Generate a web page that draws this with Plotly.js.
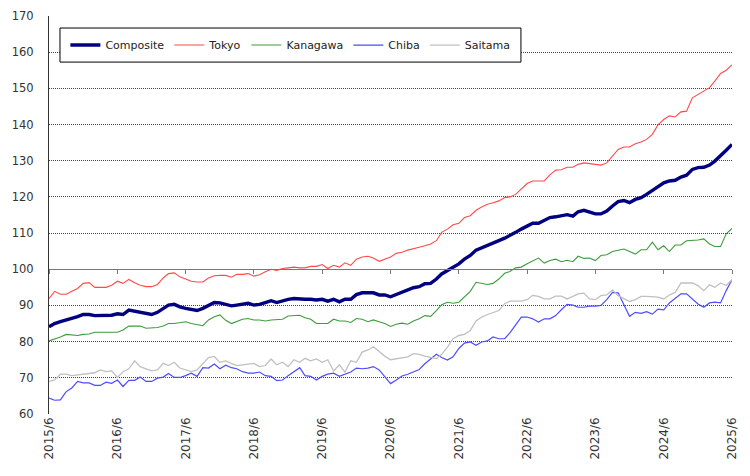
<!DOCTYPE html>
<html>
<head>
<meta charset="utf-8">
<script src="https://cdn.plot.ly/plotly-3.0.1.min.js"></script>
<style>
html,body{margin:0;padding:0;background:#fff;}
#chart{width:750px;height:476px;}
</style>
</head>
<body>
<div id="chart"></div>
<script>
// Monthly index values, 2015/6 .. 2025/6 (121 months)
var startYear = 2015, startMonth = 6, nMonths = 121;

var composite = [
84.1,85.0,85.5,85.9,86.4,86.9,87.5,87.5,87.2,87.2,87.2,87.3,87.7,87.5,88.7,88.4,88.1,87.6,87.5,88.1,89.2,90.1,90.3,89.6,89.2,88.9,88.6,89.2,90.1,90.8,90.7,90.3,
89.9,90.1,90.4,90.6,90.1,90.3,90.8,91.3,90.8,91.3,91.7,91.9,91.7,91.7,91.7,91.5,91.7,91.2,91.7,91.0,91.7,91.7,93.0,93.5,93.5,93.5,92.9,92.9,92.4,
93.0,93.7,94.3,94.9,95.2,96.0,96.1,97.3,98.7,99.6,100.6,101.5,102.8,103.8,105.3,105.9,106.5,107.2,107.9,108.6,109.3,110.2,111.1,112.0,112.7,112.7,113.4,114.3,114.5,114.7,115.1,
114.7,115.9,116.3,115.9,115.3,115.3,116.1,117.5,118.7,119.0,118.4,119.3,119.8,120.7,121.8,123.0,123.9,124.4,124.6,125.5,126.0,127.6,128.1,128.2,128.8,129.9,131.3,132.9,134.5
];
var tokyo = [
91.9,93.9,93.1,93.1,93.9,94.7,96.1,96.3,95.0,95.0,95.0,95.6,96.7,96.1,97.2,96.3,95.6,95.2,95.2,95.8,97.6,98.8,99.0,97.9,97.2,96.7,96.5,96.5,97.6,98.2,98.3,98.3,
97.8,98.6,98.6,98.8,98.1,98.5,99.3,100.0,99.7,100.2,100.4,100.6,100.4,100.4,100.8,100.8,101.3,100.2,101.1,100.6,101.8,101.1,102.8,103.4,103.6,103.1,102.2,102.8,103.4,
104.4,104.7,105.3,105.8,106.1,106.5,107.0,107.9,110.2,111.1,112.3,112.7,114.3,114.8,116.3,117.2,118.0,118.4,118.9,119.8,120.0,120.7,122.1,123.7,124.4,124.4,124.4,126.1,127.4,127.5,128.2,
128.2,129.0,129.4,129.2,128.8,128.8,129.4,131.3,133.1,133.8,133.8,134.7,135.2,135.9,137.3,139.9,141.4,142.4,142.1,143.5,143.7,147.4,148.3,149.1,150.2,152.0,154.1,155.0,156.5
];
var kanagawa = [
80.2,80.7,81.3,82.0,81.8,81.7,82.0,82.1,82.6,82.6,82.6,82.6,82.6,83.2,84.3,84.3,84.3,83.7,83.7,83.9,84.3,85.0,85.0,85.2,85.5,85.0,84.6,84.4,86.0,86.9,87.4,85.9,
85.0,85.5,86.2,86.4,86.0,86.0,85.7,86.0,86.0,86.2,87.1,87.3,87.3,86.6,86.2,85.0,85.0,85.0,86.2,85.7,85.7,85.3,86.4,86.2,85.5,86.0,85.5,85.0,84.2,
84.8,85.1,84.8,85.7,86.3,87.2,87.0,88.6,90.2,90.9,90.6,90.9,92.3,93.9,96.4,96.1,95.8,96.1,97.3,98.9,99.4,100.4,100.6,101.5,102.4,103.1,101.7,102.4,102.8,102.1,102.5,
102.1,103.6,103.0,103.1,102.4,103.8,104.0,104.9,105.2,105.6,104.9,104.2,105.4,105.4,107.5,105.4,106.5,104.9,106.7,106.7,107.9,107.9,108.1,108.4,107.0,106.3,106.3,109.8,111.3
];
var chiba = [
64.4,63.8,63.9,66.2,67.2,69.0,68.6,68.6,67.9,67.9,68.8,68.5,69.4,67.6,69.3,69.3,70.2,69.0,69.0,69.9,70.2,71.2,70.1,70.1,70.6,71.3,70.4,72.8,72.7,73.8,72.5,73.5,
72.8,72.5,71.7,71.3,71.3,71.6,70.6,70.4,69.2,69.4,70.6,71.7,72.8,70.6,70.4,69.4,70.4,71.0,71.3,70.4,71.0,71.6,72.7,72.5,72.7,73.1,72.2,70.4,68.4,
69.4,70.5,71.0,71.7,72.3,73.9,75.3,76.5,75.6,74.9,75.8,78.1,79.6,79.9,79.0,79.9,80.2,81.3,80.8,80.8,82.4,84.5,86.8,86.8,86.3,85.4,86.3,86.3,87.2,88.8,90.3,
90.1,89.5,89.5,89.8,89.8,90.0,91.6,93.6,93.5,90.1,87.0,88.1,87.8,88.3,87.6,89.0,88.8,90.7,92.0,93.2,93.2,91.8,90.4,89.5,90.7,90.9,90.7,94.1,97.1
];
var saitama = [
69.0,69.4,71.0,71.0,70.6,70.8,71.1,71.1,71.4,72.2,71.7,71.9,70.1,71.7,72.5,74.7,73.1,72.5,71.9,72.2,74.0,73.4,74.3,72.7,72.2,71.7,72.2,74.0,75.6,75.9,74.3,74.7,
74.0,73.4,73.6,73.8,74.0,73.1,73.4,75.2,73.6,74.3,73.1,75.0,74.3,75.4,74.7,75.2,74.3,75.0,71.9,73.6,71.6,74.7,74.3,77.1,77.7,78.6,77.2,76.0,75.0,
75.3,75.6,75.8,76.7,76.5,76.0,75.6,75.3,76.5,78.5,80.8,81.7,82.0,83.1,85.7,86.8,87.5,88.0,88.6,90.5,91.2,91.2,91.2,91.6,92.8,92.5,91.8,91.8,92.6,92.6,91.8,
92.5,93.2,93.4,91.8,91.6,92.7,92.9,94.3,92.7,91.8,91.1,91.6,92.5,92.5,92.5,92.3,91.8,92.9,93.6,96.2,96.2,96.2,95.5,94.1,95.7,95.0,96.2,95.5,97.1
];

var tickYears = [2015,2016,2017,2018,2019,2020,2021,2022,2023,2024,2025];
var tickLabels = ["2015/6","2016/6","2017/6","2018/6","2019/6","2020/6","2021/6","2022/6","2023/6","2024/6","2025/6"];
var yTicks = [60,70,80,90,100,110,120,130,140,150,160,170];

function pad(n){return (n<10?'0':'')+n;}
var months = [];
for (var i=0;i<nMonths;i++){
  var m0 = startMonth-1+i;
  months.push((startYear+Math.floor(m0/12))+'-'+pad(m0%12+1)+'-01');
}
var tickVals = tickYears.map(function(y){return y+'-06-01';});

var FONT = 'DejaVu Sans, Verdana, sans-serif';

var traces = [
  {x:months, y:composite, name:'Composite', type:'scatter', mode:'lines', xaxis:'x2', yaxis:'y',
   line:{color:'#000080', width:3.4}},
  {x:months, y:tokyo, name:'Tokyo', type:'scatter', mode:'lines', line:{color:'#ff4a4a', width:1.1}},
  {x:months, y:kanagawa, name:'Kanagawa', type:'scatter', mode:'lines', line:{color:'#3c9c3c', width:1.1}},
  {x:months, y:chiba, name:'Chiba', type:'scatter', mode:'lines', line:{color:'#4d4dff', width:1.2}},
  {x:months, y:saitama, name:'Saitama', type:'scatter', mode:'lines', line:{color:'#c0c0c0', width:1.3}}
];

var xr = [months[0], months[months.length-1]];

var layout = {
  width:750, height:476,
  margin:{l:49, r:18, t:16, b:62, pad:0},
  paper_bgcolor:'#fff', plot_bgcolor:'#fff',
  font:{family:FONT, size:11, color:'#333'},
  showlegend:true,
  legend:{orientation:'h', x:0.024, y:0.927, xanchor:'left', yanchor:'middle',
    bgcolor:'rgba(0,0,0,0)', borderwidth:0,
    font:{family:FONT, size:11, color:'#222'}, traceorder:'normal'},
  shapes:[{type:'rect', xref:'paper', yref:'paper', x0:0.0161, x1:0.691, y0:0.8842, y1:0.9698,
    fillcolor:'#fff', line:{color:'#000', width:1}, layer:'above'}],
  xaxis:{type:'date', range:xr, tickmode:'array', tickvals:tickVals, ticktext:tickLabels,
    tickangle:-90, showgrid:false, zeroline:false, showline:false, ticks:'',
    tickfont:{family:FONT, size:12, color:'#333'}, fixedrange:true},
  xaxis2:{type:'date', overlaying:'x', matches:'x', range:xr, anchor:'free', position:40/110,
    side:'bottom', showline:true, linecolor:'#777', linewidth:1, ticks:'outside', ticklen:4,
    tickcolor:'#777', tickwidth:1, tickmode:'array', tickvals:tickVals, showticklabels:false,
    showgrid:false, zeroline:false},
  yaxis:{range:[60,170], tickmode:'array', tickvals:yTicks, showline:true, linecolor:'#333',
    linewidth:1, showgrid:true, gridcolor:'#444', griddash:'1px,1px', gridwidth:1, zeroline:false,
    ticks:'', ticklabelstandoff:12, tickfont:{family:FONT, size:11.5, color:'#333'}}
};

Plotly.newPlot('chart', traces, layout, {displayModeBar:false, staticPlot:true});
</script>
</body>
</html>
